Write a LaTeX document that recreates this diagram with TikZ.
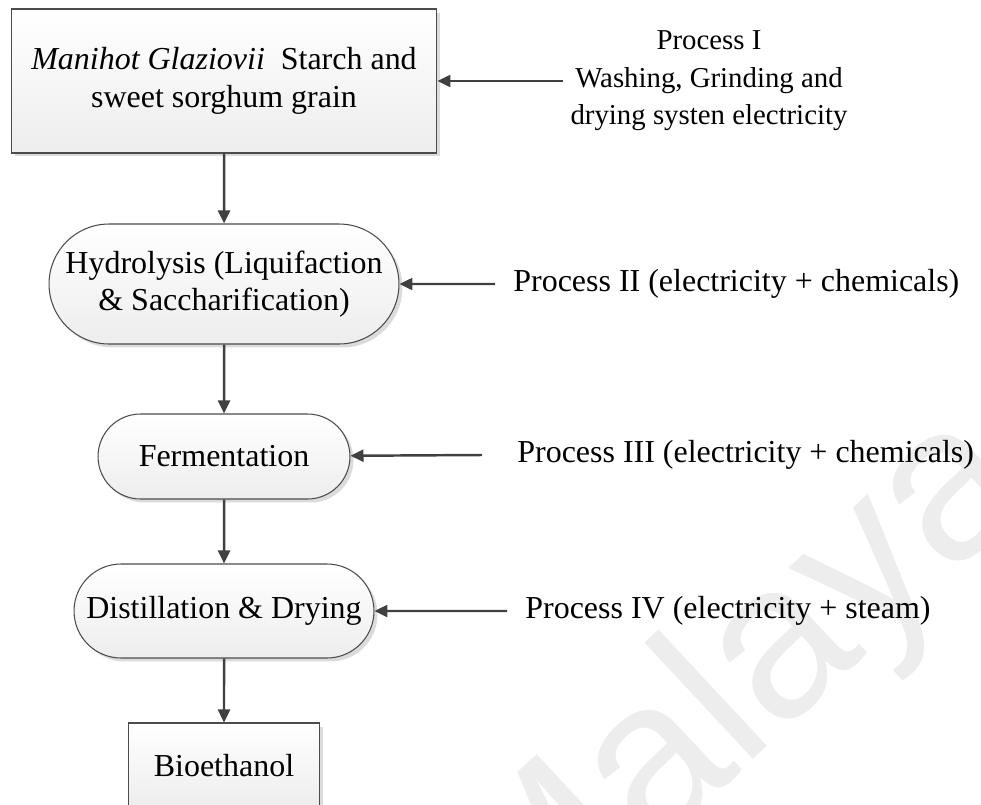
\documentclass[tikz,border=0pt]{standalone}
\usepackage{fontspec}
\setmainfont{Liberation Serif}
\setsansfont{Liberation Sans}
\usetikzlibrary{arrows.meta,shapes.misc,shadows}
\tikzset{
 stagebox/.style={draw=black!70, line width=0.6pt, top color=white, bottom color=black!7,
   drop shadow={shadow xshift=0.07cm, shadow yshift=-0.07cm, fill=black!14, opacity=1},
   align=center, font=\fontsize{18.2}{21.3}\selectfont, inner sep=0pt},
 stageround/.style={stagebox, rounded rectangle},
 proclabel/.style={align=center, font=\fontsize{18.2}{21.3}\selectfont, inner sep=0pt},
 flow/.style={->, draw=black!75, line width=1.4pt}
}
\begin{document}
\begin{tikzpicture}[x=0.02cm, y=-0.02cm, >={Triangle[length=0.26cm,width=0.24cm]}]
 \useasboundingbox (0,0) rectangle (981,805);
 \node (wm) [rotate=43, text=black!7, font=\fontsize{125}{125}\selectfont\sffamily] at (740,695) {Malaya};

 \node (src) [stagebox, minimum width=8.52cm, minimum height=2.88cm] at (224,81)
   {\textit{Manihot Glaziovii}\ \ Starch and\\ sweet sorghum grain};
 \node (hydro) [stageround, minimum width=7.0cm, minimum height=2.4cm] at (224,284)
   {Hydrolysis (Liquifaction\\ \& Saccharification)};
 \node (ferm) [stageround, minimum width=5.04cm, minimum height=1.7cm] at (224,456.5) {Fermentation};
 \node (dist) [stageround, minimum width=6.0cm, minimum height=1.88cm] at (224,611) {Distillation \& Drying};
 \node (bio) [stagebox, minimum width=3.82cm, minimum height=1.72cm] at (224,766) {Bioethanol};

 \node (p1) [proclabel, font=\fontsize{16.4}{21.3}\selectfont] at (709,81) {Process I\\ Washing, Grinding and\\ drying systen electricity};
 \node (p2) [proclabel, anchor=west] at (513,284) {Process II (electricity + chemicals)};
 \node (p3) [proclabel, anchor=west] at (517,455) {Process III (electricity + chemicals)};
 \node (p4) [proclabel, anchor=west] at (525,611) {Process IV (electricity + steam)};

 \coordinate (t1) at (563,81);
 \coordinate (t2) at (495,284);
 \coordinate (t3) at (482,455);
 \coordinate (t4) at (507,611);

 \foreach \a/\b in {src/hydro, hydro/ferm, ferm/dist, dist/bio}
 {
     \draw[flow] (\a) -- (\b);
 }
 \foreach \t/\b in {t1/src, t2/hydro, t3/ferm, t4/dist}
 {
     \draw[flow] (\t) -- (\b);
 }
\end{tikzpicture}
\end{document}
